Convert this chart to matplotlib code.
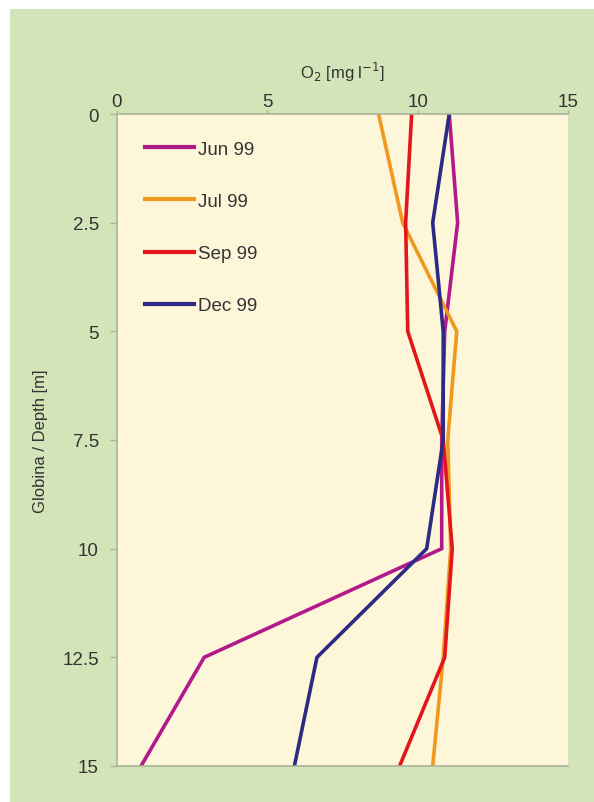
import matplotlib
matplotlib.use("Agg")
import matplotlib.pyplot as plt
from matplotlib.patches import Rectangle
from matplotlib.ticker import FormatStrFormatter

# --- data ---
depth = [0, 2.5, 5, 7.5, 10, 12.5, 15]
jun99 = [11.05, 11.33, 10.9, 10.8, 10.8, 2.9, 0.8]
jul99 = [8.7, 9.5, 11.3, 11.0, 11.1, 10.85, 10.5]
sep99 = [9.8, 9.6, 9.67, 10.85, 11.15, 10.9, 9.4]
dec99 = [11.05, 10.5, 10.85, 10.85, 10.3, 6.65, 5.9]

labels = ["Jun 99", "Jul 99", "Sep 99", "Dec 99"]
colors = ["#b21a8c", "#f0981f", "#e3161c", "#2d2a86"]

GREEN = "#d4e4b9"
CREAM = "#fdf6d9"
AXC = "#a8b59a"
TXT = "#333333"

plt.rcParams['font.family'] = ['Liberation Sans', 'DejaVu Sans']

fig = plt.figure(figsize=(5.94, 8.03), dpi=100)
fig.patch.set_facecolor("white")
# green panel behind everything
fig.patches.append(Rectangle((10 / 594, 0), 1 - 10 / 594, 1 - 10 / 803,
                             transform=fig.transFigure, facecolor=GREEN,
                             edgecolor="none", zorder=-10))

ax = fig.add_axes([117 / 594, 1 - 767 / 803, 451 / 594, 652 / 803])
ax.set_facecolor(CREAM)

for vals, lab, c in zip([jun99, jul99, sep99, dec99], labels, colors):
    ax.plot(vals, depth, color=c, lw=2.6, label=lab, solid_joinstyle="miter")

ax.set_xlim(0, 15)
ax.set_ylim(15, 0)
ax.set_xticks([0, 5, 10, 15])
ax.set_yticks(depth)
ax.yaxis.set_major_formatter(FormatStrFormatter('%g'))
ax.xaxis.tick_top()
ax.xaxis.set_label_position("top")

for s in ax.spines.values():
    s.set_color(AXC)
    s.set_linewidth(1.2)
ax.spines["right"].set_visible(False)

ax.tick_params(axis="both", colors=AXC, labelcolor=TXT, labelsize=13.5,
               width=1, direction="out")
ax.tick_params(axis="x", length=3, pad=0)
ax.tick_params(axis="y", length=5, pad=8)

ax.set_xlabel(r"O$_2$ [mg l$^{\mathrm{-1}}$]", fontsize=12, color=TXT, labelpad=11)
ax.set_ylabel("Globina / Depth [m]", fontsize=12, color=TXT, labelpad=10)

leg = ax.legend(loc="upper left", bbox_to_anchor=(0.025, 0.985), frameon=False,
                fontsize=13.5, handlelength=2.6, handletextpad=0.2,
                labelspacing=1.87, labelcolor=TXT)
for h in leg.get_lines():
    h.set_linewidth(3)

fig.savefig("out.png", dpi=100, facecolor=fig.get_facecolor())
